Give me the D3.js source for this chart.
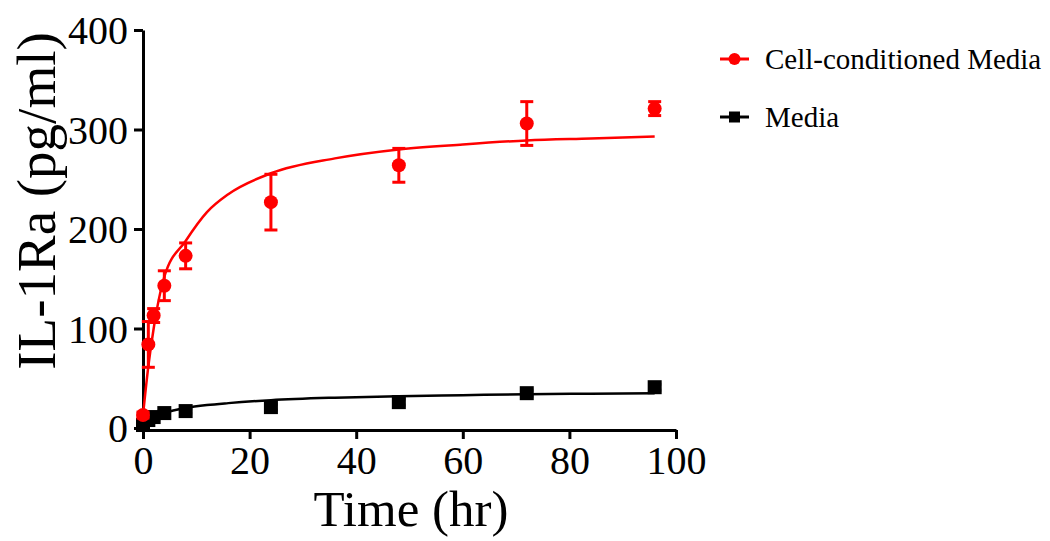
<!DOCTYPE html>
<html>
<head>
  <meta charset="UTF-8">
  <title>IL-1Ra release</title>
  <style>
    body { margin: 0; background: #fff; }
    text { font-family: "Liberation Serif", "Times New Roman", serif; fill: #000; }
    .axis path, .axis line { stroke: #000; stroke-width: 3; }
  </style>
</head>
<body>
<svg></svg>
<script src="https://d3js.org/d3.v7.min.js"></script>
<script>

let width = 1050,
    height = 541;

// time points (hr)
const times = [0, 1, 2, 4, 8, 24, 48, 72, 96];

// Cell-conditioned Media: mean and error (pg/ml)
const ccmMean = [13, 84, 113, 143, 173, 227, 264, 306, 321];
const ccmErr  = [3, 23, 7, 15, 13, 28, 17, 22, 7];

// Media: mean and error (pg/ml)
const mediaMean = [3, 8, 11, 15, 17, 21, 26, 35, 41];
const mediaErr  = [2, 2, 2, 2, 2, 3, 3, 3, 3];

// fitted curves
const ccmFitT = [0, 1, 2, 4, 8, 12, 16, 24, 36, 48, 60, 72, 84, 96];
const ccmFitY = [13, 62, 100, 152, 188, 217, 235, 256, 271, 280, 285, 289, 291, 293];
const mediaFitT = [0, 1, 2, 4, 8, 12, 16, 24, 36, 48, 60, 72, 84, 96];
const mediaFitY = [3, 8, 11, 15, 20, 23, 25, 28, 30.5, 32, 33, 34, 34.5, 35];

const xTicks = [0, 20, 40, 60, 80, 100];
const yTicks = [0, 100, 200, 300, 400];

const seriesNames = ["Cell-conditioned Media", "Media"];
const seriesColors = ["#ff0000", "#000000"];

let svg = d3.select("svg")
    .attr("width", width)
    .attr("height", height);

let x = d3.scaleLinear().domain([0, 100]).range([143, 676]);
let y = d3.scaleLinear().domain([0, 400]).range([428, 30]);

// axes
svg.append("g")
    .attr("class", "axis")
    .attr("transform", "translate(" + x(0) + ",0)")
    .call(d3.axisLeft(y).tickValues(yTicks).tickSize(9).tickSizeOuter(0).tickPadding(6))
    .call(g => g.selectAll("text").style("font-size", "40px").attr("dy", "0.34em"));

svg.append("g")
    .attr("class", "axis")
    .attr("transform", "translate(0," + (y(0) + 2) + ")")
    .call(d3.axisBottom(x).tickValues(xTicks).tickSize(9).tickSizeOuter(0).tickPadding(7))
    .call(g => g.selectAll("text").style("font-size", "40px").attr("dy", "0.71em"));

// axis titles
svg.append("text")
    .attr("x", 411)
    .attr("y", 526)
    .attr("text-anchor", "middle")
    .style("font-size", "51px")
    .text("Time (hr)");

svg.append("text")
    .attr("transform", "translate(55," + 201 + ") rotate(-90)")
    .attr("text-anchor", "middle")
    .style("font-size", "55px")
    .text("IL-1Ra (pg/ml)");

let line = d3.line()
    .x(d => x(d[0]))
    .y(d => y(d[1]))
    .curve(d3.curveMonotoneX);

function drawSeries(fitT, fitY, mean, err, color, shape) {
    let g = svg.append("g");
    g.append("path")
        .datum(fitT.map((t, i) => [t, fitY[i]]))
        .attr("fill", "none")
        .attr("stroke", color)
        .attr("stroke-width", 2.5)
        .attr("d", line);

    let pts = times.map((t, i) => ({t: t, m: mean[i], e: err[i]}));

    let eb = g.selectAll("g.err").data(pts).enter().append("g")
        .attr("stroke", color)
        .attr("stroke-width", 3);
    eb.append("line")
        .attr("x1", d => x(d.t)).attr("x2", d => x(d.t))
        .attr("y1", d => y(d.m - d.e)).attr("y2", d => y(d.m + d.e));
    eb.append("line")
        .attr("x1", d => x(d.t) - 6.5).attr("x2", d => x(d.t) + 6.5)
        .attr("y1", d => y(d.m + d.e)).attr("y2", d => y(d.m + d.e));
    eb.append("line")
        .attr("x1", d => x(d.t) - 6.5).attr("x2", d => x(d.t) + 6.5)
        .attr("y1", d => y(d.m - d.e)).attr("y2", d => y(d.m - d.e));

    if (shape == "circle") {
        g.selectAll("circle").data(pts).enter().append("circle")
            .attr("cx", d => x(d.t))
            .attr("cy", d => y(d.m))
            .attr("r", 7)
            .attr("fill", color);
    } else {
        g.selectAll("rect").data(pts).enter().append("rect")
            .attr("x", d => x(d.t) - 7)
            .attr("y", d => y(d.m) - 7)
            .attr("width", 14)
            .attr("height", 14)
            .attr("fill", color);
    }
}

drawSeries(mediaFitT, mediaFitY, mediaMean, mediaErr, seriesColors[1], "square");
drawSeries(ccmFitT, ccmFitY, ccmMean, ccmErr, seriesColors[0], "circle");

// legend
let legend = svg.selectAll("g.legend")
    .data(seriesNames)
    .enter().append("g")
    .attr("class", "legend")
    .attr("transform", (d, i) => "translate(0," + (59 + i * 58) + ")");

legend.append("line")
    .attr("x1", 720).attr("x2", 749)
    .attr("stroke", (d, i) => seriesColors[i])
    .attr("stroke-width", 3);

legend.filter((d, i) => i == 0).append("circle")
    .attr("cx", 734.5).attr("r", 6)
    .attr("fill", seriesColors[0]);

legend.filter((d, i) => i == 1).append("rect")
    .attr("x", 729).attr("y", -5.5)
    .attr("width", 11).attr("height", 11)
    .attr("fill", seriesColors[1]);

legend.append("text")
    .attr("x", 765)
    .attr("y", 10)
    .style("font-size", "29px")
    .text(d => d);

</script>
</body>
</html>
